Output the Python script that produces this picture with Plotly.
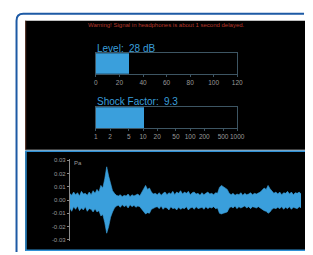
import plotly.graph_objects as go

W, H = 313, 255

# ---- data ----
warning_text = "Warning! Signal in headphones is about 1 second delayed."
level_label = "Level:"
level_value = 28          # dB
level_unit = "dB"
level_ticks = [0, 20, 40, 60, 80, 100, 120]

shock_label = "Shock Factor:"
shock_value = 9.3
shock_ticks = [1, 2, 5, 10, 20, 50, 100, 200, 500, 1000]

wave_ticks = [0.03, 0.02, 0.01, 0.00, -0.01, -0.02, -0.03]
wave_unit = "Pa"
# time index (arbitrary units) and envelope
wave_t = list(range(0, 240, 2))
wave_upper = [0.005, 0.0035, 0.006, 0.004, 0.0055, 0.003, 0.0065, 0.0045, 0.005, 0.0035, 0.006, 0.004, 0.007, 0.005,
              0.008, 0.006, 0.011, 0.009, 0.016, 0.025, 0.018, 0.012, 0.007,
              0.005, 0.0035,
              0.003, 0.004, 0.0025, 0.0035, 0.003, 0.0045, 0.0025, 0.004, 0.003, 0.0035, 0.0045, 0.003,
              0.006, 0.009, 0.011, 0.008, 0.009, 0.006, 0.0045, 0.005,
              0.004, 0.0055, 0.0035, 0.005, 0.006, 0.004, 0.0055, 0.0045, 0.0065, 0.004, 0.006, 0.005, 0.007,
              0.0045, 0.006, 0.005, 0.0065, 0.004, 0.0055, 0.006, 0.0045, 0.005, 0.0035, 0.0055, 0.004, 0.005,
              0.006, 0.0045, 0.005, 0.004, 0.0055,
              0.005, 0.0095, 0.011, 0.01, 0.009, 0.008, 0.005,
              0.004, 0.005, 0.0035, 0.0045, 0.004, 0.0055, 0.0035, 0.005, 0.004, 0.0045, 0.0055, 0.004, 0.005,
              0.0045, 0.005,
              0.006, 0.0075, 0.009, 0.008, 0.011, 0.0085, 0.007, 0.005, 0.006,
              0.0045, 0.006, 0.004, 0.0055, 0.005, 0.0065, 0.0045, 0.006, 0.004, 0.0055, 0.005, 0.006, 0.0045]
wave_lower = [-0.006, -0.0085, -0.005, -0.007, -0.0045, -0.008, -0.006, -0.0075, -0.005, -0.0085, -0.0065, -0.007,
              -0.009, -0.0065,
              -0.009, -0.008, -0.012, -0.011, -0.017, -0.025, -0.02, -0.013, -0.009,
              -0.006, -0.0045,
              -0.004, -0.0055, -0.0035, -0.005, -0.004, -0.006, -0.0035, -0.005, -0.004, -0.0055, -0.0045, -0.005,
              -0.007, -0.009, -0.0105, -0.0095, -0.01, -0.007, -0.006, -0.0055,
              -0.005, -0.0065, -0.0045, -0.007, -0.0055, -0.006, -0.0075, -0.005, -0.0065, -0.006, -0.0075,
              -0.0055, -0.007, -0.006, -0.0065, -0.005, -0.0075, -0.006, -0.0055, -0.007, -0.005, -0.0065,
              -0.006, -0.0055, -0.007, -0.005, -0.0065, -0.0055, -0.006, -0.005, -0.0065,
              -0.006, -0.01, -0.0105, -0.01, -0.0095, -0.009, -0.006,
              -0.005, -0.006, -0.0045, -0.0065, -0.005, -0.006, -0.0055, -0.0045, -0.006, -0.005, -0.0065,
              -0.005, -0.0055, -0.006, -0.005,
              -0.006, -0.0075, -0.008, -0.0085, -0.01, -0.009, -0.007, -0.006, -0.0065,
              -0.0055, -0.0065, -0.005, -0.007, -0.0055, -0.0065, -0.005, -0.007, -0.0055, -0.006, -0.0065,
              -0.005, -0.006]

BLUE = "#3a9fdc"
FRAME = "#3d5563"
TICKC = "#9a9a9a"
FONT = "Liberation Sans Narrow, Liberation Sans, Arial"


def px(x):
    return x / W


def py(y):
    return 1 - y / H


fig = go.Figure()

# level bar
fig.add_trace(go.Bar(x=[level_value], y=[0], orientation="h", width=1,
                     marker=dict(color=BLUE, line=dict(width=0)),
                     xaxis="x", yaxis="y", showlegend=False, hoverinfo="skip"))
# shock bar (log axis)
fig.add_trace(go.Bar(x=[shock_value], y=[0], base=[1], orientation="h", width=1,
                     marker=dict(color=BLUE, line=dict(width=0)),
                     xaxis="x2", yaxis="y2", showlegend=False, hoverinfo="skip"))
# waveform envelope
fig.add_trace(go.Scatter(x=wave_t, y=wave_lower, mode="lines",
                         line=dict(color=BLUE, width=0.6),
                         xaxis="x3", yaxis="y3", showlegend=False, hoverinfo="skip"))
fig.add_trace(go.Scatter(x=wave_t, y=wave_upper, mode="lines", fill="tonexty",
                         fillcolor=BLUE, line=dict(color=BLUE, width=0.6),
                         xaxis="x3", yaxis="y3", showlegend=False, hoverinfo="skip"))

bar_dom_x = [px(97), px(243)]
common_x = dict(showline=True, mirror=True, linecolor=FRAME, linewidth=1,
                showgrid=False, zeroline=False, ticks="outside", ticklen=2,
                tickcolor=FRAME, tickangle=0,
                tickfont=dict(size=6.5, color=TICKC, family=FONT))
common_y = dict(showline=True, mirror=True, linecolor=FRAME, linewidth=1,
                showgrid=False, zeroline=False, showticklabels=False, ticks="",
                range=[-0.5, 0.5], fixedrange=True)

fig.update_layout(
    width=W, height=H, margin=dict(l=0, r=0, t=0, b=0),
    paper_bgcolor="white", plot_bgcolor="rgba(0,0,0,0)",
    bargap=0, hovermode=False,
    xaxis=dict(domain=bar_dom_x, range=[0, 120], tickvals=level_ticks, anchor="y", **common_x),
    yaxis=dict(domain=[py(73), py(52)], anchor="x", **common_y),
    xaxis2=dict(domain=bar_dom_x, type="log", range=[0, 3], tickvals=shock_ticks,
                ticktext=[str(v) for v in shock_ticks], anchor="y2", **common_x),
    yaxis2=dict(domain=[py(128), py(107)], anchor="x2", **common_y),
    xaxis3=dict(domain=[px(70), px(309)], range=[0, 238], visible=False, anchor="y3"),
    yaxis3=dict(domain=[py(243), py(160)], range=[-0.031, 0.0305], anchor="x3",
                tickvals=wave_ticks, ticktext=["%.2f" % v for v in wave_ticks],
                showline=True, linecolor="#8a8a8a", linewidth=1, showgrid=False,
                zeroline=False, ticks="outside", ticklen=2, tickcolor="#8a8a8a",
                tickfont=dict(size=6, color=TICKC, family=FONT)),
)


def line(x0, y0, x1, y1, color, width):
    return dict(type="line", xref="paper", yref="paper", x0=px(x0), y0=py(y0),
                x1=px(x1), y1=py(y1), line=dict(color=color, width=width), layer="below")


def box(x0, y0, x1, y1, color):
    return dict(type="rect", xref="paper", yref="paper", x0=px(x0), y0=py(y1),
                x1=px(x1), y1=py(y0), fillcolor=color, line=dict(width=0), layer="below")


WAVE_BORDER = "#2e8fd4"
shapes = [
    # outer rounded blue border
    dict(type="path", xref="paper", yref="paper",
         path=f"M {px(15)} {py(254)} L {px(15)} {py(19)} Q {px(15)} {py(12)} {px(22)} {py(12)} L {px(312)} {py(12)}",
         line=dict(color="#1d5aa5", width=2), layer="below"),
    # top black panel
    box(24, 19, 313, 150, "black"),
    line(24.5, 19, 24.5, 150, "#5a3326", 1),
    # waveform panel
    box(24, 151, 313, 253, "black"),
    line(24.75, 151.5, 24.75, 252.5, WAVE_BORDER, 1.5),
    line(24, 151.75, 313, 151.75, WAVE_BORDER, 1.5),
    line(24, 252.25, 313, 252.25, WAVE_BORDER, 1.5),
]
fig.update_layout(shapes=shapes)

lab_font = dict(size=10, color=BLUE, family=FONT)


def note(text, x, y, font, xanchor="left"):
    return dict(text=text, x=px(x), y=py(y), xref="paper", yref="paper",
                xanchor=xanchor, yanchor="middle", showarrow=False, font=font)


annotations = [
    note(warning_text, 170, 23, dict(size=6, color="#b5382c", family=FONT), xanchor="center"),
    note(level_label, 96, 47, lab_font),
    note(f"{level_value} {level_unit}", 129, 47, lab_font),
    note(shock_label, 96, 101, lab_font),
    note(f"{shock_value}", 165, 101, lab_font),
    note(wave_unit, 72, 164, dict(size=6, color=TICKC, family=FONT)),
]
fig.update_layout(annotations=annotations)

fit_js = (
    "var de=document.documentElement, b=document.body;"
    f"de.style.overflow='hidden'; de.style.width='{W}px'; de.style.height='{H}px';"
    f"b.style.margin='0'; b.style.overflow='hidden'; b.style.width='{W}px'; b.style.height='{H}px';"
    "var g=document.querySelector('.plotly-graph-div');"
    "if(g){g.style.position='absolute'; g.style.left='0px'; g.style.top='0px';}"
)
fig.write_html("out.html", config={"displayModeBar": False, "staticPlot": True},
               post_script=fit_js)
